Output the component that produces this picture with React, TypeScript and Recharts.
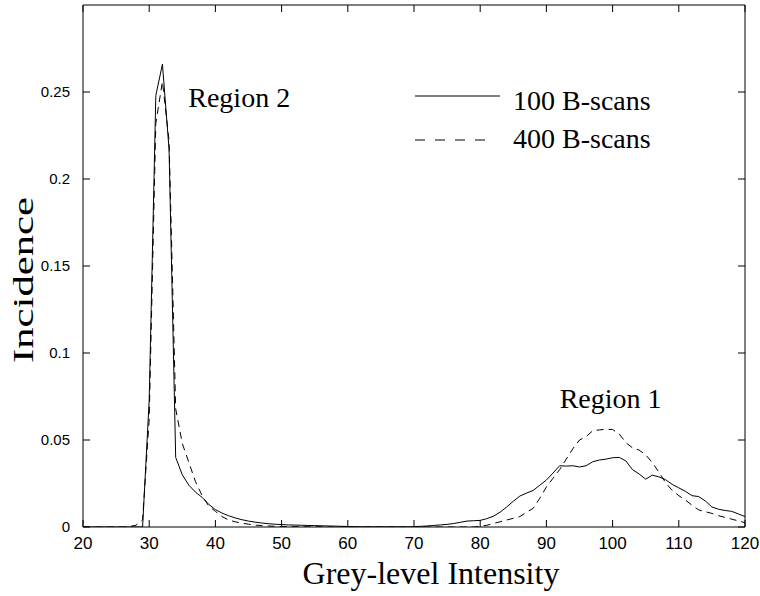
import React from "react";
import { Legend, Line, LineChart, ReferenceDot, XAxis, YAxis } from "recharts";

// grey level bins on the x axis
const intensity = [
  20, 21, 22, 23, 24, 25, 26, 27, 28, 29,
  30, 31, 32, 33, 34, 35, 36, 37, 38, 39,
  40, 41, 42, 43, 44, 45, 46, 47, 48, 49,
  50, 51, 52, 53, 54, 55, 56, 57, 58, 59,
  60, 61, 62, 63, 64, 65, 66, 67, 68, 69,
  70, 71, 72, 73, 74, 75, 76, 77, 78, 79,
  80, 81, 82, 83, 84, 85, 86, 87, 88, 89,
  90, 91, 92, 93, 94, 95, 96, 97, 98, 99,
  100, 101, 102, 103, 104, 105, 106, 107, 108, 109,
  110, 111, 112, 113, 114, 115, 116, 117, 118, 119,
  120,
];

// 100 B-scans (solid)
const scans100 = [
  0, 0, 0, 0, 0, 0, 0, 0, 0, 0,
  0.073, 0.248, 0.266, 0.217, 0.04, 0.03, 0.024, 0.02, 0.017, 0.013,
  0.01, 0.008, 0.0065, 0.0052, 0.0042, 0.0034, 0.0028, 0.0023, 0.0019, 0.0016,
  0.0014, 0.0012, 0.0011, 0.001, 0.0009, 0.0008, 0.0007, 0.0006, 0.0005, 0.0004,
  0.0003, 0.0002, 0.0001, 0.0001, 0.0001, 0.0001, 0.0001, 0.0001, 0.0001, 0.0001,
  0.0002, 0.0004, 0.0006, 0.0009, 0.0012, 0.0015, 0.002, 0.0027, 0.0034, 0.0036,
  0.0038, 0.0048, 0.0062, 0.0085, 0.0115, 0.0148, 0.0178, 0.0195, 0.021, 0.024,
  0.027, 0.031, 0.0352, 0.035, 0.0352, 0.0345, 0.0352, 0.0375, 0.0385, 0.039,
  0.0398, 0.04, 0.038, 0.033, 0.0305, 0.0275, 0.0298, 0.0288, 0.0272, 0.0245,
  0.0225, 0.0205, 0.018, 0.0175, 0.015, 0.0115, 0.0102, 0.0095, 0.009, 0.0075,
  0.006,
];

// 400 B-scans (dashed)
const scans400 = [
  0, 0, 0, 0, 0, 0, 0, 0.0003, 0.001, 0.004,
  0.062, 0.232, 0.256, 0.222, 0.068, 0.048, 0.037, 0.026, 0.018, 0.012,
  0.009, 0.006, 0.004, 0.003, 0.0022, 0.0016, 0.0011, 0.0008, 0.0006, 0.0004,
  0.0003, 0.0002, 0.0002, 0.0001, 0.0001, 0.0001, 0.0001, 0, 0, 0,
  0, 0, 0, 0, 0, 0, 0, 0, 0, 0,
  0, 0, 0, 0, 0, 0, 0, 0, 0, 0,
  0.0003, 0.001, 0.002, 0.003, 0.004, 0.005, 0.006, 0.0085, 0.0107, 0.0165,
  0.023, 0.028, 0.033, 0.039, 0.045, 0.05, 0.052, 0.0553, 0.0558, 0.0562,
  0.056, 0.0535, 0.0485, 0.0455, 0.0442, 0.0415, 0.037, 0.0315, 0.0255, 0.021,
  0.018, 0.0155, 0.0125, 0.0098, 0.0088, 0.0078, 0.0065, 0.0055, 0.0045, 0.0035,
  0.0025,
];

const xTicks = [20, 30, 40, 50, 60, 70, 80, 90, 100, 110, 120];
const yTicks = [0, 0.05, 0.1, 0.15, 0.2, 0.25];
const seriesNames = ["100 B-scans", "400 B-scans"];

const data = intensity.map((x, i) => ({ x, a: scans100[i], b: scans400[i] }));

const SANS = "'Liberation Sans', Arial, sans-serif";
const SERIF = "'Liberation Serif', 'Times New Roman', serif";
const TICK = 7;

// MATLAB style: tick marks point into the plot box
const BottomTick = (props: any) => {
  const { x, y, payload } = props;
  return (
    <g>
      <line x1={x} x2={x} y1={y} y2={y - TICK} stroke="#000" strokeWidth={1} />
      <text x={x} y={y + 22} textAnchor="middle" fontSize={17} fontFamily={SANS} fill="#000">
        {payload.value}
      </text>
    </g>
  );
};

const TopTick = (props: any) => {
  const { x, y } = props;
  return <line x1={x} x2={x} y1={y} y2={y + TICK} stroke="#000" strokeWidth={1} />;
};

const LeftTick = (props: any) => {
  const { x, y, payload } = props;
  return (
    <g>
      <line x1={x} x2={x + TICK} y1={y} y2={y} stroke="#000" strokeWidth={1} />
      <text x={x - 13} y={y + 5} textAnchor="end" fontSize={15} fontFamily={SANS} fill="#000">
        {String(payload.value)}
      </text>
    </g>
  );
};

const RightTick = (props: any) => {
  const { x, y } = props;
  return <line x1={x} x2={x - TICK} y1={y} y2={y} stroke="#000" strokeWidth={1} />;
};

const YLabel = () => (
  <text
    x={33}
    y={280}
    transform="rotate(-90, 33, 280)"
    textAnchor="middle"
    fontSize={30}
    fontFamily={SERIF}
    fill="#000"
    textLength={166}
    lengthAdjust="spacingAndGlyphs"
  >
    Incidence
  </text>
);

const XLabel = (props: any) => {
  const { viewBox } = props;
  const cx = viewBox.x + viewBox.width / 2 + 17;
  return (
    <text x={cx} y={584} textAnchor="middle" fontSize={32} fontFamily={SERIF} fill="#000">
      Grey-level Intensity
    </text>
  );
};

const LegendBox = () => (
  <svg width={260} height={80}>
    <line x1={5} x2={90} y1={21} y2={21} stroke="#000" />
    <text x={103} y={35} fontSize={28} fontFamily={SERIF} fill="#000">{seriesNames[0]}</text>
    <line x1={5} x2={76} y1={65} y2={65} stroke="#000" strokeDasharray="10 10" />
    <text x={103} y={73} fontSize={28} fontFamily={SERIF} fill="#000">{seriesNames[1]}</text>
  </svg>
);

export default function App() {
  return (
    <div style={{ position: "absolute", left: 0, top: 0, background: "#fff" }}>
      <LineChart width={760} height={596} data={data} margin={{ top: 4, right: 14, left: 0, bottom: 0 }}>
        <XAxis
          dataKey="x"
          type="number"
          domain={[20, 120]}
          ticks={xTicks}
          height={69}
          tickSize={0}
          tickMargin={0}
          tick={<BottomTick />}
          stroke="#000"
          allowDataOverflow
          label={<XLabel />}
        />
        <XAxis
          xAxisId="top"
          orientation="top"
          dataKey="x"
          type="number"
          domain={[20, 120]}
          ticks={xTicks}
          height={1}
          tickSize={0}
          tickMargin={0}
          tick={<TopTick />}
          stroke="#000"
          allowDataOverflow
        />
        <YAxis
          type="number"
          domain={[0, 0.3]}
          ticks={yTicks}
          width={83}
          tickSize={0}
          tickMargin={0}
          tick={<LeftTick />}
          stroke="#000"
          allowDataOverflow
          label={<YLabel />}
        />
        <YAxis
          yAxisId="right"
          orientation="right"
          type="number"
          domain={[0, 0.3]}
          ticks={yTicks}
          width={1}
          tickSize={0}
          tickMargin={0}
          tick={<RightTick />}
          stroke="#000"
          allowDataOverflow
        />
        <Legend
          layout="horizontal"
          verticalAlign="middle"
          align="center"
          content={<LegendBox />}
          wrapperStyle={{ left: 410, top: 75, width: 260, height: 80 }}
        />
        <Line dataKey="a" name={seriesNames[0]} stroke="#000" strokeWidth={1} dot={false} activeDot={false} isAnimationActive={false} />
        <Line dataKey="b" name={seriesNames[1]} stroke="#000" strokeWidth={1} strokeDasharray="7 5" dot={false} activeDot={false} isAnimationActive={false} />
        <ReferenceDot
          x={35.9}
          y={0.247}
          r={0}
          stroke="none"
          label={{ value: "Region 2", position: "right", offset: 0, fontSize: 28, fontFamily: SERIF, fill: "#000" }}
        />
        <ReferenceDot
          x={92}
          y={0.074}
          r={0}
          stroke="none"
          label={{ value: "Region 1", position: "right", offset: 0, fontSize: 28, fontFamily: SERIF, fill: "#000" }}
        />
      </LineChart>
    </div>
  );
}
